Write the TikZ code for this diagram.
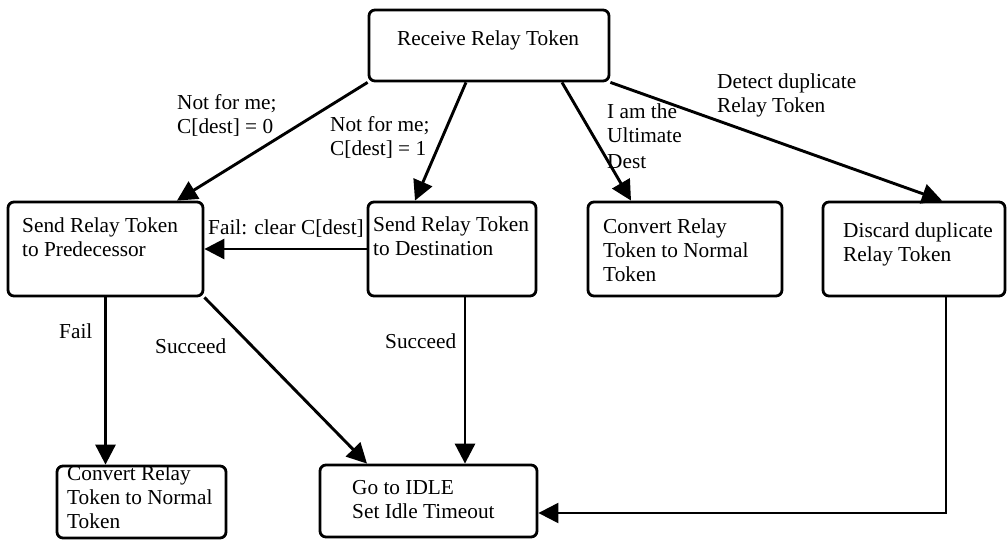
\documentclass[tikz,border=0pt]{standalone}
\usepackage{fontspec}
\setmainfont{Liberation Serif}
\usetikzlibrary{arrows.meta}
\tikzset{
  box/.style={draw, line width=2.8pt, rounded corners=6pt, inner sep=0pt},
  txt/.style={anchor=base west, inner sep=0pt, align=left, font=\fontsize{21.3}{24}\selectfont},
  conn/.style={line width=2.9pt, -{Triangle[length=20pt,width=20pt]}},
  thinconn/.style={line width=2.2pt, -{Triangle[length=20pt,width=20pt]}}
}
\begin{document}
\begin{tikzpicture}[x=1pt,y=-1pt]
\useasboundingbox (0,0) rectangle (1008,540);
% boxes
\node[box, minimum width=240pt, minimum height=71pt] (recv) at (489,45.5) {};
\node[box, minimum width=195pt, minimum height=94pt] (pred) at (105.5,249) {};
\node[box, minimum width=168pt, minimum height=94pt] (dest) at (452,249) {};
\node[box, minimum width=194pt, minimum height=94pt] (conv1) at (685,249) {};
\node[box, minimum width=182pt, minimum height=94pt] (disc) at (914,249) {};
\node[box, minimum width=169pt, minimum height=72pt] (conv2) at (141.5,502) {};
\node[box, minimum width=217pt, minimum height=72pt] (idle) at (428.5,501) {};
% box texts (anchor = baseline of last line)
\node[txt] (trecv) at (397,46) {Receive Relay Token};
\node[txt] (tpred) at (22,256) {Send Relay Token\\to Predecessor};
\node[txt] (tdest) at (373,255) {Send Relay Token\\to Destination};
\node[txt] (tconv1) at (603,281) {Convert Relay\\Token to Normal\\Token};
\node[txt] (tdisc) at (843,261) {Discard duplicate\\Relay Token};
\node[txt] (tconv2) at (67,528) {Convert Relay\\Token to Normal\\Token};
\node[txt] (tidle) at (352,518) {Go to IDLE\\Set Idle Timeout};
% connectors
\draw[conn] (recv.south west) -- ([xshift=71.5pt]pred.north);
\draw[conn] ([xshift=-23pt]recv.south) -- ([xshift=-37pt]dest.north);
\draw[conn] ([xshift=73pt]recv.south) -- ([xshift=-54pt]conv1.north);
\draw[conn] (recv.south east) -- ([xshift=28pt]disc.north);
\draw[conn] (dest.west) -- (pred.east);
\draw[conn] (pred.south) -- (pred.south |- conv2.north);
\draw[conn] (pred.south east) -- ([xshift=-61.5pt]idle.north);
\coordinate (dbot) at ([xshift=13pt]dest.south);
\draw[conn] (dbot) -- (dbot |- idle.north);
\coordinate (sbot) at ([xshift=32pt]disc.south);
\draw[thinconn] (sbot) |- ([yshift=-12pt]idle.east);
% labels
\node[txt] (l1) at (177,134) {Not for me;\\C[dest] = 0};
\node[txt] (l2) at (330,156) {Not for me;\\C[dest] = 1};
\node[txt, font=\fontsize{21.3}{25}\selectfont] (l3) at (607,168) {I am the\\Ultimate\\Dest};
\node[txt] (l4) at (717,113) {Detect duplicate\\Relay Token};
\node[txt] (l5) at (208,234) {Fail: clear C[dest]};
\node[txt] (l6) at (59,338) {Fail};
\node[txt] (l7) at (155,353) {Succeed};
\node[txt] (l8) at (385,348) {Succeed};
\end{tikzpicture}
\end{document}
